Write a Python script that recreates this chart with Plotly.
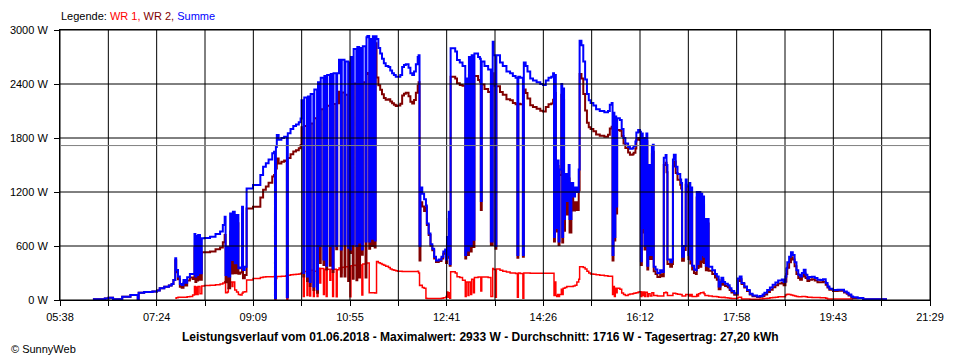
import plotly.graph_objects as go

# ---------------- data ----------------
x_labels = ["05:38", "07:24", "09:09", "10:55", "12:41", "14:26", "16:12", "17:58", "19:43", "21:29"]
y_ticks = [0, 600, 1200, 1800, 2400, 3000]
y_labels = ["0 W", "600 W", "1200 W", "1800 W", "2400 W", "3000 W"]
average_w = 1716

times = [
    # 06:14 - 07:42
    "06:14","06:27","06:31","06:36","06:46","06:55","07:03","07:04","07:10","07:19",
    "07:24","07:27","07:32","07:37","07:40","07:42",
    # 07:44 - 09:17
    "07:44","07:45","07:47","07:49","07:51","07:53","07:55","07:57","08:00","08:03",
    "08:05","08:06","08:07","08:08","08:09","08:11","08:13","08:16","08:22","08:28",
    "08:33","08:36","08:38","08:39","08:41","08:42","08:44","08:46","08:47","08:49",
    "08:51","08:53","08:55","08:57","08:58","09:00","09:02","09:09","09:17",
    # 09:20 - 10:01
    "09:20","09:23","09:26","09:30","09:32","09:33","09:34","09:35","09:37","09:40",
    "09:43","09:45","09:46","09:47","09:50","09:53","09:56","09:59","10:01",
    # 10:02 - 10:55
    "10:02","10:04","10:05","10:08","10:09","10:11","10:12","10:15","10:16","10:19",
    "10:20","10:22","10:23","10:26","10:27","10:29","10:30","10:33","10:34","10:36",
    "10:37","10:40","10:41","10:43","10:45","10:46","10:49","10:50","10:53","10:54",
    "10:55",
    # 10:56 - 11:28
    "10:56","10:58","10:59","11:02","11:03","11:05","11:06","11:08","11:09","11:12",
    "11:13","11:14","11:16","11:17","11:19","11:20","11:22","11:23","11:24","11:26",
    "11:28",
    # 11:30 - 12:44
    "11:30","11:32","11:34","11:37","11:39","11:41","11:43","11:45","11:47","11:50",
    "11:52","11:54","11:56","11:59","12:01","12:03","12:05","12:07","12:09","12:10",
    "12:11","12:12","12:14","12:16","12:18","12:19","12:21","12:23","12:25","12:27",
    "12:29","12:32","12:35","12:37","12:39","12:40","12:41","12:42","12:43","12:44",
    # 12:45 - 14:37
    "12:45","12:50","12:52","12:55","12:58","13:01","13:02","13:04","13:05","13:07",
    "13:08","13:10","13:11","13:15","13:17","13:18","13:19","13:22","13:26","13:29",
    "13:31","13:32","13:34","13:35","13:39",
    "13:42","13:46","13:50","13:53","13:56","13:58","13:59","14:01","14:04","14:05",
    "14:07","14:09","14:12","14:15","14:19","14:23","14:26","14:29","14:32","14:35",
    "14:37",
    # 14:38 - 15:41
    "14:38","14:39","14:40","14:41","14:42","14:43","14:44","14:46","14:47","14:48",
    "14:49","14:50","14:52","14:54","14:55","14:57","14:59","15:01","15:03","15:05",
    "15:06","15:08","15:10","15:12","15:14","15:16","15:18","15:21","15:24","15:28",
    "15:33","15:37","15:39","15:41",
    # 15:42 - 16:12
    "15:42","15:43","15:44","15:45","15:46","15:47","15:50","15:52","15:54","15:56",
    "15:59","16:01","16:04","16:05","16:07","16:08","16:10","16:12",
    # 16:13 - 17:55
    "16:13","16:14","16:15","16:16","16:17","16:18","16:19","16:20","16:21","16:23",
    "16:25","16:26","16:27","16:29","16:31","16:34","16:36","16:38","16:40","16:41",
    "16:42","16:45","16:47","16:48","16:49","16:51","16:53","16:56","16:57","16:58",
    "17:00","17:02","17:03","17:05","17:06","17:07","17:08","17:09","17:11","17:13",
    "17:14","17:15","17:16","17:18","17:19","17:20","17:21","17:22","17:23","17:24",
    "17:26","17:27","17:29","17:31","17:34","17:36","17:38","17:40","17:41","17:43",
    "17:45","17:48","17:50","17:52","17:55",
    # 17:58 - 20:42
    "17:58","17:59","18:01","18:03","18:06","18:09","18:12","18:15","18:20","18:23",
    "18:26","18:28","18:31","18:34","18:37","18:40","18:43","18:47","18:49","18:51",
    "18:52","18:53","18:55","18:57","18:59","19:01","19:03","19:05","19:07","19:09",
    "19:11","19:13","19:15","19:17","19:20","19:23","19:26","19:29","19:32","19:35",
    "19:37","19:39","19:43","19:48","19:52","19:55","19:58","20:00","20:03","20:05",
    "20:10","20:16","20:25","20:35","20:42",
]

summe = [
    8, 18, 25, 8, 37, 55, 0, 80, 90, 95,
    105, 130, 148, 160, 178, 222,
    463, 333, 260, 178, 167, 222, 192, 252, 289, 289,
    733, 260, 710, 278, 722, 296, 685, 690, 703, 733,
    760, 833, 925, 278, 592, 260, 962, 444, 980, 407,
    944, 352, 360, 1036, 333, 370, 1240, 1277, 1390,
    1480, 1520, 1560, 1630, 1648, 20, 1700, 1833, 1780, 1800,
    1815, 1815, 30, 1852, 1900, 1933, 1950, 1975, 2018,
    2220, 300, 2250, 260, 2260, 200, 2290, 150, 2340, 120,
    2420, 600, 2470, 450, 2490, 380, 2500, 600, 2510, 350,
    2520, 600, 2520, 2670, 560, 2670, 620, 2650, 580, 2640,
    560,
    2700, 620, 2790, 600, 2810, 640, 2800, 560, 2820, 650,
    2920, 2933, 650, 2900, 680, 2930, 660, 2930, 2900, 2800,
    2740,
    2680, 2630, 2600, 2590, 2550, 2520, 2500, 2480, 2480, 2500,
    2590, 2610, 2620, 2580, 2520, 2500, 2540, 2620, 2700, 2720,
    600, 1250, 1180, 1120, 1050, 850, 740, 620, 570, 480,
    440, 450, 480, 540, 560, 450, 700, 500, 980, 400,
    2796, 2760, 2667, 2640, 2600, 500, 2460, 550, 2700, 600,
    2720, 670, 2740, 2700, 2680, 1100, 2650, 2600, 2560, 650,
    2870, 2720, 600, 2720, 2640,
    2600, 2540, 2520, 2490, 2470, 500, 2480, 2470, 500, 2640,
    2600, 2540, 2460, 2440, 2420, 2400, 2390, 2440, 2470, 2480,
    2520,
    700, 2500, 1500, 800, 1550, 650, 1450, 2400, 700, 2350,
    900, 1400, 1100, 1500, 900, 1300, 1150, 1250, 1200, 1450,
    2880, 2830, 2650, 2450, 2290, 2220, 2190, 2160, 2120, 2100,
    2085, 2100, 2170, 2190,
    500, 2080, 700, 2040, 1040, 2020, 2000, 1900, 1800, 1740,
    1700, 1680, 1690, 1710, 1760, 1860, 1890, 1870,
    430, 1850, 800, 1800, 600, 1700, 1850, 380, 1500, 500,
    1700, 1726, 370, 340, 300, 330, 310, 1580, 1610, 1500,
    450, 420, 450, 1560, 1615, 1480, 1400, 1340, 1300, 480,
    600, 1340, 1260, 500, 1300, 450, 1250, 380, 340, 330,
    1200, 400, 1200, 450, 1180, 500, 1150, 480, 900, 380,
    900, 370, 370, 330, 290, 260, 150, 200, 248, 200,
    180, 165, 130, 100, 75,
    75, 240, 260, 190, 150, 110, 70, 50, 40, 45,
    60, 80, 110, 140, 170, 195, 218, 228, 200, 260,
    350, 420, 480, 530, 500, 420, 330, 280, 260, 300,
    335, 280, 240, 255, 259, 245, 225, 222, 230, 190,
    150, 125, 111, 115, 113, 95, 80, 60, 40, 30,
    22, 8, 7, 7, 7,
]

wr1 = [
    None, None, None, None, None, None, None, None, None, None,
    None, None, None, None, None, None,
    20, 25, 30, 30, 30, 30, 30, 35, 40, 55,
    150, 60, 145, 60, 150, 70, 155, 160, 165, 170,
    178, 190, 204, 80, 90, 130, 200, 150, 200, 110,
    90, 60, 55, 75, 90, 92, 222, 240, 250,
    255, 258, 258, 259, 260, 0, 240, 262, 262, 265,
    265, 270, 0, 275, 280, 282, 285, 288, 295,
    300, 40, 317, 50, 310, 45, 330, 40, 320, 40,
    354, 190, 350, 60, 343, 40, 343, 220, 343, 40,
    343, 37, 335, 355, 300, 365, 360, 370, 370, 373,
    37,
    380, 385, 385, 380, 390, 390, 390, 56, 400, 400,
    410, 410, 80, 80, 80, 80, 78, 78, 429, 415,
    405,
    395, 385, 375, 360, 345, 335, 330, 325, 320, 320,
    318, 318, 317, 317, 317, 317, 317, 318, 320, 300,
    160, 165, 140, 130, 20, 18, 18, 18, 18, 18,
    18, 18, 20, 25, 25, 40, 90, 30, 80, 20,
    315, 300, 259, 250, 220, 40, 200, 50, 200, 60,
    230, 80, 250, 255, 255, 100, 255, 255, 250, 40,
    350, 340, 30, 345, 330,
    320, 310, 300, 300, 295, 30, 300, 295, 20, 300,
    300, 300, 296, 296, 296, 296, 296, 296, 296, 296,
    296,
    50, 200, 50, 40, 60, 40, 60, 120, 60, 130,
    130, 140, 150, 150, 150, 150, 155, 165, 200, 230,
    370, 370, 360, 345, 320, 300, 290, 285, 280, 275,
    270, 265, 265, 265,
    60, 150, 40, 130, 80, 130, 120, 78, 60, 50,
    60, 67, 70, 75, 78, 80, 90, 93,
    40, 90, 50, 90, 40, 85, 85, 40, 70, 45,
    80, 80, 50, 50, 45, 45, 45, 80, 85, 80,
    50, 50, 50, 75, 75, 70, 65, 60, 60, 45,
    45, 60, 60, 45, 60, 45, 60, 40, 40, 40,
    60, 45, 70, 80, 80, 80, 85, 70, 50, 50,
    50, 45, 45, 40, 40, 35, 30, 30, 28, 30,
    25, 22, 20, 18, 18,
    18, 30, 30, 12, 10, 10, 8, 7, 7, 10,
    15, 18, 20, 25, 28, 30, 35, 37, 35, 55,
    60, 63, 60, 55, 50, 45, 40, 35, 35, 40,
    40, 35, 30, 30, 28, 28, 27, 26, 26, 20,
    11, 11, 11, 11, 11, 11, 11, 11, 11, 11,
    None, None, None, None, None,
]

if not (len(times) == len(summe) == len(wr1)):
    raise SystemExit(f"length mismatch {len(times)} {len(summe)} {len(wr1)}")

# ---------------- derived ----------------
def to_min(s):
    h, m = s.split(":")
    return int(h) * 60 + int(m)

x = [to_min(t) for t in times]
wr2 = [s - (r or 0) for s, r in zip(summe, wr1)]

x_start = to_min(x_labels[0])
x_end = to_min(x_labels[-1])
n = 2 * (len(x_labels) - 1)
tickvals = [x_start + i * (x_end - x_start) / n for i in range(n + 1)]
ticktext = [x_labels[i // 2] if i % 2 == 0 else "" for i in range(n + 1)]

FONT = "Liberation Sans, Arial, sans-serif"

fig = go.Figure()
fig.add_trace(go.Scatter(x=x, y=wr1, mode="lines", name="WR 1",
                         line=dict(color="#FF0000", width=1.5, shape="hv"),
                         connectgaps=False, hoverinfo="skip"))
fig.add_trace(go.Scatter(x=x, y=wr2, mode="lines", name="WR 2",
                         line=dict(color="#800000", width=2, shape="hv"),
                         hoverinfo="skip"))
fig.add_trace(go.Scatter(x=x, y=summe, mode="lines", name="Summe",
                         line=dict(color="#0000FF", width=2, shape="hv"),
                         hoverinfo="skip"))

shapes = []
for v in tickvals:
    shapes.append(dict(type="line", xref="x", yref="y", x0=v, x1=v, y0=y_ticks[0], y1=y_ticks[-1],
                       line=dict(color="black", width=1), layer="above"))
for v in y_ticks:
    shapes.append(dict(type="line", xref="x", yref="y", x0=x_start, x1=x_end, y0=v, y1=v,
                       line=dict(color="black", width=1), layer="above"))
shapes.append(dict(type="line", xref="x", yref="y", x0=x_start, x1=x_end, y0=average_w, y1=average_w,
                   line=dict(color="#808080", width=1), layer="above"))

# The page body adds an 8px margin, so the figure is sized to end at 960x360.
fig.update_layout(
    width=952, height=352,
    margin=dict(l=52, r=30, t=22, b=60),
    paper_bgcolor="white", plot_bgcolor="white",
    showlegend=False,
    font=dict(family=FONT, size=11, color="black"),
    shapes=shapes,
    xaxis=dict(range=[x_start, x_end], tickvals=tickvals, ticktext=ticktext,
               showgrid=False, zeroline=False, showline=True, linecolor="black", linewidth=1,
               mirror=True, ticks="outside", ticklen=5, tickcolor="black", tickwidth=1,
               ticklabelstandoff=2, automargin=False,
               tickfont=dict(family=FONT, size=11, color="black")),
    yaxis=dict(range=[y_ticks[0], y_ticks[-1]], tickvals=y_ticks, ticktext=y_labels,
               showgrid=False, zeroline=False, showline=True, linecolor="black", linewidth=1,
               mirror=True, ticks="outside", ticklen=5, tickcolor="black", tickwidth=1,
               ticklabelstandoff=4, automargin=False,
               tickfont=dict(family=FONT, size=11, color="black")),
    annotations=[
        dict(xref="paper", yref="paper", x=-1 / 870, y=1.052, xanchor="left", yanchor="middle",
             showarrow=False, font=dict(family=FONT, size=11, color="black"),
             text='Legende: <span style="color:#FF0000">WR 1, </span>'
                  '<span style="color:#800000">WR 2, </span>'
                  '<span style="color:#0000FF">Summe</span>'),
        dict(xref="paper", yref="paper", x=(480 - 60) / 870, y=-0.137, xanchor="center", yanchor="middle",
             showarrow=False, font=dict(family=FONT, size=12, color="black"),
             text="<b>Leistungsverlauf vom 01.06.2018 - Maximalwert: 2933 W - Durchschnitt: 1716 W"
                  " - Tagesertrag: 27,20 kWh</b>"),
        dict(xref="paper", yref="paper", x=(9 - 60) / 870, y=-0.182, xanchor="left", yanchor="middle",
             showarrow=False, font=dict(family=FONT, size=11, color="black"),
             text="© SunnyWeb"),
    ],
)

fig.write_html("out.html")
